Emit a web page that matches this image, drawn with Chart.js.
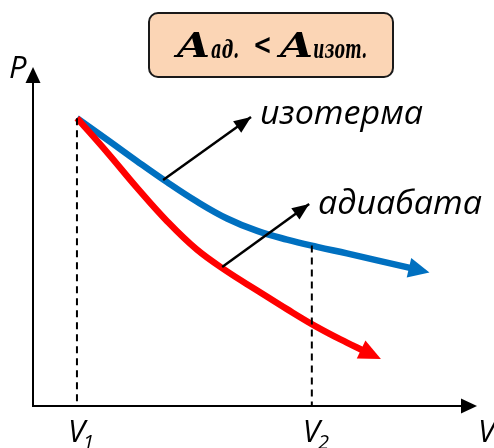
<!DOCTYPE html>
<html>
<head>
<meta charset="utf-8">
<script src="https://cdn.jsdelivr.net/npm/chart.js@4"></script>
<style>
  body { margin: 0; background: #fff; }
  canvas { display: block; }
</style>
</head>
<body>
<canvas id="pv-chart" width="494" height="448"></canvas>
<script>
// curve data (x = volume, y = pressure, arbitrary units)
var isoX = [0.99, 1.67, 2.34, 3.02, 3.69, 4.37, 5.05, 5.72, 6.40, 7.07, 7.75, 8.49];
var isoY = [8.32, 7.70, 7.08, 6.47, 5.91, 5.42, 5.06, 4.81, 4.60, 4.41, 4.21, 3.99];
var adiX = [0.99, 1.67, 2.34, 3.02, 3.69, 4.37, 5.05, 5.72, 6.40, 7.07, 7.41];
var adiY = [8.32, 7.33, 6.31, 5.34, 4.52, 3.89, 3.34, 2.80, 2.28, 1.83, 1.62];

var v1 = 0.99, v2 = 6.28;
var v1P = 8.32, v2P = 4.64;

// pointer arrows from curves to their labels
var isoPointerX = [2.93, 4.91];
var isoPointerY = [6.53, 8.35];
var adiPointerX = [4.26, 6.22];
var adiPointerY = [4.02, 5.84];

var curveLabels = ['изотерма', 'адиабата'];
var tickLabels = ['V', 'V'];
var tickSubs = ['1', '2'];

function pts(xs, ys) {
  var out = [];
  for (var i = 0; i < xs.length; i++) out.push({x: xs[i], y: ys[i]});
  return out;
}

function drawHead(ctx, tx, ty, ux, uy, len, half, color) {
  ctx.save();
  ctx.fillStyle = color;
  ctx.beginPath();
  ctx.moveTo(tx, ty);
  ctx.lineTo(tx - ux * len - uy * half, ty - uy * len + ux * half);
  ctx.lineTo(tx - ux * len + uy * half, ty - uy * len - ux * half);
  ctx.closePath();
  ctx.fill();
  ctx.restore();
}

// text squeezed/stretched to a given width
function fitText(ctx, txt, x, y, w, font) {
  ctx.save();
  ctx.font = font;
  var m = ctx.measureText(txt).width;
  ctx.translate(x, y);
  ctx.scale(w / m, 1);
  ctx.fillText(txt, 0, 0);
  ctx.restore();
}

var arrowPlugin = {
  id: 'arrows',
  beforeDatasetsDraw: function(chart) {
    var ctx = chart.ctx;
    var xs = chart.scales.x, ys = chart.scales.y;
    var x0 = xs.getPixelForValue(0), y0 = ys.getPixelForValue(0);
    var yTop = ys.getPixelForValue(9.8), xEnd = xs.getPixelForValue(10);
    ctx.save();
    ctx.strokeStyle = '#000';
    ctx.lineWidth = 2;
    ctx.beginPath();
    ctx.moveTo(x0, y0);
    ctx.lineTo(x0, yTop + 10);
    ctx.moveTo(x0 - 1, y0);
    ctx.lineTo(xEnd - 10, y0);
    ctx.stroke();
    ctx.restore();
    drawHead(ctx, x0, yTop, 0, -1, 16, 7.5, '#000');
    drawHead(ctx, xEnd, y0, 1, 0, 16, 7.5, '#000');
  },
  afterDatasetsDraw: function(chart) {
    var ctx = chart.ctx;
    chart.data.datasets.forEach(function(ds, i) {
      if (!ds.head) return;
      var el = chart.getDatasetMeta(i).data;
      var last = el[el.length - 1], prev = el[el.length - 2];
      var fx = prev.x, fy = prev.y;
      if (last.cp1x !== undefined && (Math.abs(last.cp1x - last.x) > 0.5 || Math.abs(last.cp1y - last.y) > 0.5)) {
        fx = last.cp1x; fy = last.cp1y;
      }
      var dx = last.x - fx, dy = last.y - fy;
      var d = Math.sqrt(dx * dx + dy * dy);
      var ux = dx / d, uy = dy / d;
      var tx = last.x + ux * ds.head.ahead, ty = last.y + uy * ds.head.ahead;
      drawHead(ctx, tx, ty, ux, uy, ds.head.len, ds.head.half, ds.borderColor);
    });
  },
  afterDraw: function(chart) {
    var ctx = chart.ctx;
    var xs = chart.scales.x;
    ctx.save();
    ctx.fillStyle = '#000';
    ctx.textBaseline = 'alphabetic';

    // curve names
    fitText(ctx, curveLabels[0], 260, 124, 163, 'italic 32px "Open Sans"');
    fitText(ctx, curveLabels[1], 318, 214, 164, 'italic 32px "Open Sans"');

    // axis names
    ctx.font = 'italic 31px "Open Sans"';
    ctx.fillText('P', 9, 78);
    ctx.fillText('V', 478, 442);

    // V1, V2 ticks
    var tv = [v1, v2];
    for (var i = 0; i < tv.length; i++) {
      var px = xs.getPixelForValue(tv[i]);
      ctx.font = 'italic 31px "Open Sans"';
      ctx.fillText(tickLabels[i], px - 9, 442);
      var w = ctx.measureText(tickLabels[i]).width;
      ctx.font = 'italic 20px "Open Sans"';
      ctx.fillText(tickSubs[i], px - 11 + w, 449);
    }

    // box with A_ad < A_izot
    ctx.fillStyle = '#fbd5b5';
    ctx.strokeStyle = '#1a1a1a';
    ctx.lineWidth = 2;
    ctx.beginPath();
    ctx.roundRect(149, 13, 244, 64, 9);
    ctx.fill();
    ctx.stroke();
    ctx.fillStyle = '#000';
    fitText(ctx, 'A', 177, 57, 33, 'bold italic 33px "DejaVu Serif"');
    fitText(ctx, 'A', 280, 57, 33, 'bold italic 33px "DejaVu Serif"');
    fitText(ctx, 'ад.', 211, 58, 28, 'bold italic 26px "DejaVu Serif"');
    fitText(ctx, 'изот.', 313, 58, 54, 'bold italic 26px "DejaVu Serif"');
    fitText(ctx, '<', 253, 54, 19, 'bold 28px "DejaVu Sans"');
    ctx.restore();
  }
};

new Chart(document.getElementById('pv-chart'), {
  type: 'scatter',
  data: {
    datasets: [
      {
        data: pts([v1, v1], [v1P, 0]),
        showLine: true, borderColor: '#000', borderWidth: 2, borderDash: [7, 5], pointRadius: 0
      },
      {
        data: pts([v2, v2], [v2P, 0]),
        showLine: true, borderColor: '#000', borderWidth: 2, borderDash: [7, 5], pointRadius: 0
      },
      {
        data: pts(isoPointerX, isoPointerY),
        showLine: true, borderColor: '#000', borderWidth: 2.5, pointRadius: 0,
        head: {len: 17, half: 7, ahead: 0}
      },
      {
        data: pts(adiPointerX, adiPointerY),
        showLine: true, borderColor: '#000', borderWidth: 2.5, pointRadius: 0,
        head: {len: 17, half: 7, ahead: 0}
      },
      {
        data: pts(adiX, adiY),
        showLine: true, borderColor: '#ff0000', borderWidth: 6.5, pointRadius: 0,
        tension: 0.4,
        head: {len: 22, half: 10, ahead: 21}
      },
      {
        data: pts(isoX, isoY),
        showLine: true, borderColor: '#0070c0', borderWidth: 6.5, pointRadius: 0,
        tension: 0.4,
        head: {len: 21, half: 10, ahead: 20}
      }
    ]
  },
  options: {
    responsive: false,
    animation: false,
    layout: { padding: {left: 33, right: 17, top: 60, bottom: 42} },
    plugins: { legend: {display: false}, tooltip: {enabled: false} },
    scales: {
      x: { type: 'linear', min: 0, max: 10, display: false },
      y: { type: 'linear', min: 0, max: 10, display: false }
    }
  },
  plugins: [arrowPlugin]
});
</script>
</body>
</html>
